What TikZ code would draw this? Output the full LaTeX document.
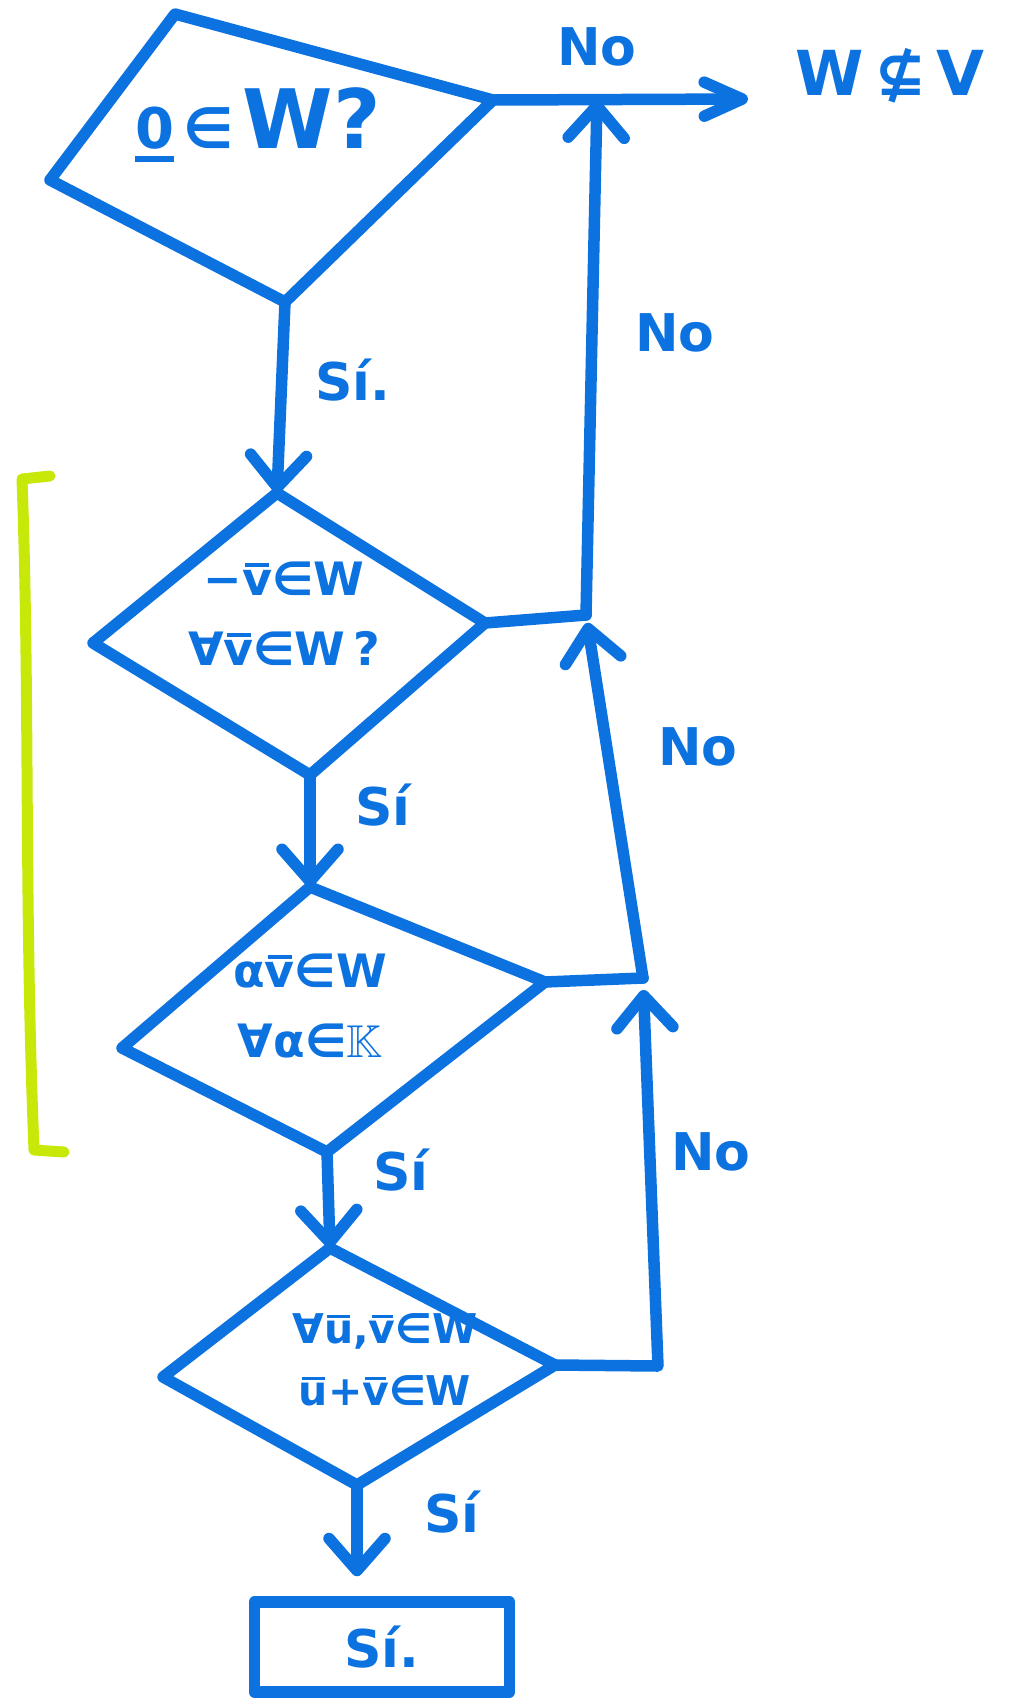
\documentclass[tikz,border=0pt]{standalone}
\usepackage{fontspec}
\setmainfont{DejaVu Sans}
\usepackage{amssymb}
\usetikzlibrary{arrows.meta}

\definecolor{marker}{RGB}{12,114,224}
\definecolor{highlight}{RGB}{200,232,10}

% vector bar over a letter, and underline for the zero vector
\newcommand{\barred}[1]{\setbox0=\hbox{#1}\vbox{\offinterlineskip\hbox to \wd0{\hss\vrule height 0.09em depth 0pt width 0.8\wd0\hss}\kern 0.07em\copy0}}
\newcommand{\ulined}[1]{\setbox0=\hbox{#1}\vtop{\offinterlineskip\copy0\kern 0.12em\hbox to \wd0{\vrule height 0.1em depth 0pt width \wd0}}}

\begin{document}
\begin{tikzpicture}[x=1pt,y=-1pt,
  pen/.style={draw=marker, line width=11.5pt, line join=round, line cap=round},
  flow/.style={pen, -{Straight Barb[length=32pt,width=56pt,round]}},
  outflow/.style={pen, -{Straight Barb[length=38pt,width=34pt,round]}},
  cond/.style={text=marker, inner sep=0pt, align=center, font=\bfseries\fontsize{46}{74}\selectfont},
  lab/.style={text=marker, inner sep=0pt, font=\bfseries\fontsize{52}{56}\selectfont},
  result/.style={pen, text=marker, inner sep=0pt, minimum width=255pt, minimum height=90pt,
                 font=\bfseries\fontsize{52}{56}\selectfont}]
\useasboundingbox (0,0) rectangle (1013,1701);

% side bracket
\draw[highlight, line width=11pt, line cap=round, line join=round]
  (50,476) -- (22,479) .. controls (30,700) and (24,900) .. (34,1150) -- (64,1152);

% corners of the decision shapes
\coordinate (d1a) at (175,14);  \coordinate (d1r) at (493,100);
\coordinate (d1b) at (285,302); \coordinate (d1l) at (50,180);
\coordinate (d2t) at (277,493); \coordinate (d2r) at (485,623);
\coordinate (d2b) at (310,775); \coordinate (d2l) at (93,643);
\coordinate (d3t) at (310,887); \coordinate (d3r) at (545,982);
\coordinate (d3b) at (327,1152);\coordinate (d3l) at (122,1048);
\coordinate (d4t) at (330,1248);\coordinate (d4r) at (555,1365);
\coordinate (d4b) at (357,1485);\coordinate (d4l) at (163,1377);

\draw[pen] (d1a) -- (d1r) -- (d1b) -- (d1l) -- cycle;
\draw[pen] (d2t) -- (d2r) -- (d2b) -- (d2l) -- cycle;
\draw[pen] (d3t) -- (d3r) -- (d3b) -- (d3l) -- cycle;
\draw[pen] (d4t) -- (d4r) -- (d4b) -- (d4l) -- cycle;

% conditions
\node[cond] (q1) at (258,125)
  {{\fontsize{56}{60}\selectfont\ulined{0}\,∈\,}{\fontsize{82}{86}\selectfont W?}};
\node[cond] (q2) at (284,614) {−\barred{v}∈W\\[-4pt]∀\barred{v}∈W\,?};
\node[cond] (q3) at (310,1006) {α\barred{v}∈W\\[-4pt]∀α∈$\mathbb{K}$};
\node[cond, font=\bfseries\fontsize{41}{66}\selectfont] (q4) at (385,1360)
  {∀\barred{u},\barred{v}∈W\\[-4pt]\barred{u}+\barred{v}∈W};

% final answer
\node[result] (res) at (382,1647) {Sí.};

% junctions on the right
\coordinate (j0) at (597,100);
\coordinate (out) at (748,99);
\coordinate (j1) at (586,615);
\coordinate (j2) at (643,978);
\coordinate (c4) at (658,1366);

\node[lab, font=\bfseries\fontsize{62}{66}\selectfont] (w) at (890,76) {W\,⊈\,V};

% "yes" chain
\draw[flow] (d1b) -- (d2t);
\draw[flow] (d2b) -- (d3t);
\draw[flow] (d3b) -- (d4t);
\draw[flow, shorten >=20pt] (d4b) -- (d4b |- res.north);

% "no" branches
\draw[outflow] (d1r) -- (out);
\draw[flow] (j1) -- (j0);
\draw[pen] (d2r) -- (j1);
\draw[flow, shorten >=8pt] (j2) -- (j1);
\draw[pen] (d3r) -- (j2);
\draw[flow, shorten >=12pt] (d4r) -- (c4) -- (j2);

% branch labels
\node[lab] (s1) at (353,380) {Sí.};
\node[lab] (s2) at (383,805) {Sí};
\node[lab] (s3) at (401,1170) {Sí};
\node[lab] (s4) at (452,1512) {Sí};
\node[lab] (n0) at (597,47) {No};
\node[lab] (n1) at (675,333) {No};
\node[lab] (n2) at (698,747) {No};
\node[lab] (n3) at (711,1152) {No};
\end{tikzpicture}
\end{document}
